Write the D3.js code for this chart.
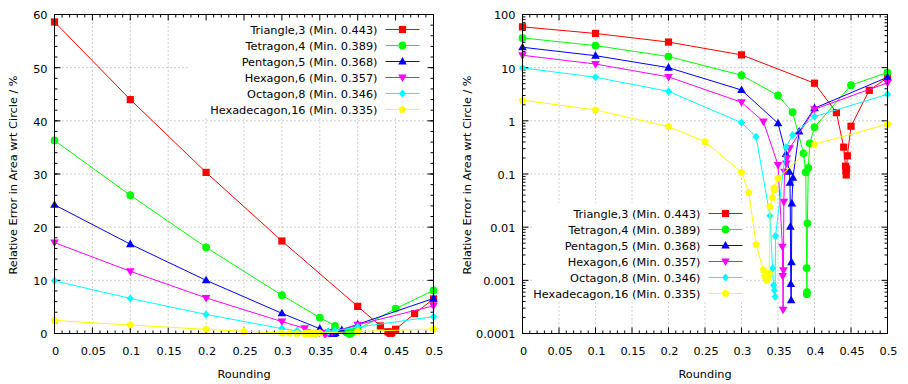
<!DOCTYPE html>
<html>
<head>
<meta charset="utf-8">
<script src="https://cdn.jsdelivr.net/npm/d3@7"></script>
<style>
body { margin: 0; background: #fff; }
text { font-family: "DejaVu Sans", Verdana, sans-serif; font-size: 11.3px; fill: #000; }
</style>
</head>
<body>
<svg id="canvas"></svg>
<script>
var w = 908;
var h = 384;

// legend titles, colours, marker kinds
var names = ['Triangle,3 (Min. 0.443)', 'Tetragon,4 (Min. 0.389)', 'Pentagon,5 (Min. 0.368)',
             'Hexagon,6 (Min. 0.357)', 'Octagon,8 (Min. 0.346)', 'Hexadecagon,16 (Min. 0.335)']
var colours = ['#ff0000', '#00ff00', '#0000ff', '#ff00ff', '#00ffff', '#ffff00']
var markers = ['square', 'circle', 'triUp', 'triDown', 'diamond', 'pentagon']

// rounding values and relative error (%)
var triR = [0, 0.1, 0.2, 0.3, 0.4, 0.43, 0.44, 0.4425, 0.443, 0.4435, 0.444, 0.445, 0.45, 0.475, 0.5]
var triV = [58.6, 44.0, 30.3, 17.4, 5.1, 1.43, 0.32, 0.14, 0.115, 0.096, 0.125, 0.22, 0.79, 3.75, 6.5]
var tetR = [0, 0.1, 0.2, 0.3, 0.35, 0.37, 0.385, 0.388, 0.3893, 0.3895, 0.3897, 0.3903, 0.3915, 0.3935, 0.4, 0.45, 0.5]
var tetV = [36.3, 26.0, 16.2, 7.2, 3.0, 1.45, 0.245, 0.108, 0.0017, 0.00055, 0.0006, 0.0118, 0.13, 0.378, 0.76, 4.68, 8.1]
var penR = [0, 0.1, 0.2, 0.3, 0.35, 0.361, 0.3655, 0.3665, 0.367, 0.3675, 0.368, 0.3685, 0.369, 0.3705, 0.379, 0.4, 0.5]
var penV = [24.2, 16.8, 10.0, 3.8, 0.9, 0.238, 0.11, 0.0686, 0.0102, 0.00085, 0.00042, 0.0022, 0.028, 0.085, 0.63, 1.73, 6.6]
var hexR = [0, 0.1, 0.2, 0.3, 0.33, 0.35, 0.356, 0.3565, 0.357, 0.3575, 0.358, 0.359, 0.3615, 0.362, 0.366, 0.4, 0.5]
var hexV = [17.1, 11.7, 6.7, 2.24, 0.97, 0.148, 0.0043, 0.0012, 0.00028, 0.00155, 0.03, 0.11, 0.158, 0.198, 0.305, 1.65, 5.2]
var octR = [0, 0.1, 0.2, 0.3, 0.32, 0.339, 0.3425, 0.344, 0.345, 0.346, 0.3466, 0.361, 0.37, 0.4, 0.5]
var octV = [9.9, 6.6, 3.58, 0.925, 0.5, 0.0164, 0.00168, 0.00081, 0.00065, 0.00049, 0.0068, 0.32, 0.54, 1.2, 3.16]
var hdcR = [0, 0.1, 0.2, 0.25, 0.3, 0.31, 0.32, 0.33, 0.332, 0.334, 0.335, 0.336, 0.338, 0.339, 0.3425, 0.3445, 0.345, 0.35, 0.4, 0.5]
var hdcV = [2.45, 1.6, 0.78, 0.406, 0.108, 0.0445, 0.0047, 0.00156, 0.0012, 0.00105, 0.001, 0.0011, 0.00135, 0.0242, 0.036, 0.05, 0.055, 0.083, 0.363, 0.863]

var seriesR = [triR, tetR, penR, hexR, octR, hdcR]
var seriesV = [triV, tetV, penV, hexV, octV, hdcV]

// tick labels
var xTicks = [0, 0.05, 0.1, 0.15, 0.2, 0.25, 0.3, 0.35, 0.4, 0.45, 0.5]
var xTickLabels = ['0', '0.05', '0.1', '0.15', '0.2', '0.25', '0.3', '0.35', '0.4', '0.45', '0.5']
var linTicks = [0, 10, 20, 30, 40, 50, 60]
var logTicks = [0.0001, 0.001, 0.01, 0.1, 1, 10, 100]
var logTickLabels = ['0.0001', '0.001', '0.01', '0.1', '1', '10', '100']

var svg = d3.select('#canvas')
  .attr('width', w)
  .attr('height', h)
  .attr('viewBox', [0, 0, w, h])

function markerPath(kind){
  var p = d3.path()
  if (kind == 'square'){
    p.rect(-3.6, -3.6, 7.2, 7.2)
  } else if (kind == 'circle'){
    p.arc(0, 0, 3.9, 0, 2*Math.PI)
  } else if (kind == 'triUp'){
    p.moveTo(0, -4.6); p.lineTo(4.3, 3); p.lineTo(-4.3, 3); p.closePath()
  } else if (kind == 'triDown'){
    p.moveTo(0, 4.6); p.lineTo(4.3, -3); p.lineTo(-4.3, -3); p.closePath()
  } else if (kind == 'diamond'){
    p.moveTo(0, -4); p.lineTo(3.6, 0); p.lineTo(0, 4); p.lineTo(-3.6, 0); p.closePath()
  } else {
    for (var k = 0; k < 5; k++){
      var a = -Math.PI/2 + k*2*Math.PI/5
      if (k == 0) p.moveTo(4*Math.cos(a), 4*Math.sin(a))
      else p.lineTo(4*Math.cos(a), 4*Math.sin(a))
    }
    p.closePath()
  }
  return p.toString()
}

function drawPlot(o){
  var g = svg.append('g')
  var x = d3.scaleLinear().domain([0, 0.5]).range([o.left, o.right])
  var y = o.y
  var pt = o.top, pb = o.bottom

  // grid
  g.selectAll('.vgrid').data(xTicks.slice(1, -1)).enter().append('line')
    .attr('x1', d => x(d)).attr('x2', d => x(d)).attr('y1', pt).attr('y2', pb)
    .style('stroke', '#a0a0a0').style('stroke-dasharray', '1,3')
  g.selectAll('.hgrid').data(o.ticks.slice(1, -1)).enter().append('line')
    .attr('x1', o.left).attr('x2', o.right).attr('y1', d => y(d)).attr('y2', d => y(d))
    .style('stroke', '#a0a0a0').style('stroke-dasharray', '1,3')

  // opaque key box
  g.append('rect').attr('x', o.key.box[0]).attr('y', o.key.box[1])
    .attr('width', o.key.box[2]).attr('height', o.key.box[3]).style('fill', '#fff')

  // ticks on all four sides
  var xMinor = d3.range(0, 51).map(i => i/100)
  xMinor.forEach(function(d, i){
    var len = (i % 5 == 0) ? 6 : 3
    g.append('line').attr('x1', x(d)).attr('x2', x(d)).attr('y1', pb).attr('y2', pb-len).style('stroke', '#000')
    g.append('line').attr('x1', x(d)).attr('x2', x(d)).attr('y1', pt).attr('y2', pt+len).style('stroke', '#000')
  })
  o.minor.forEach(function(d){
    g.append('line').attr('x1', o.left).attr('x2', o.left+3).attr('y1', y(d)).attr('y2', y(d)).style('stroke', '#000')
    g.append('line').attr('x1', o.right).attr('x2', o.right-3).attr('y1', y(d)).attr('y2', y(d)).style('stroke', '#000')
  })
  o.ticks.forEach(function(d){
    g.append('line').attr('x1', o.left).attr('x2', o.left+6).attr('y1', y(d)).attr('y2', y(d)).style('stroke', '#000')
    g.append('line').attr('x1', o.right).attr('x2', o.right-6).attr('y1', y(d)).attr('y2', y(d)).style('stroke', '#000')
  })

  // tick labels
  g.selectAll('.xl').data(xTicks).enter().append('text')
    .attr('x', d => x(d) + 1).attr('y', pb + 21).attr('text-anchor', 'middle')
    .text((d, i) => xTickLabels[i])
  g.selectAll('.yl').data(o.ticks).enter().append('text')
    .attr('x', o.left - 7).attr('y', d => y(d) + 1).attr('dy', '0.35em').attr('text-anchor', 'end')
    .text((d, i) => o.labels[i])

  // axis titles
  g.append('text').attr('x', (o.left + o.right)/2).attr('y', 378).attr('text-anchor', 'middle').text('Rounding')
  g.append('text').attr('transform', 'translate(' + o.titleX + ',' + ((pt + pb)/2 + 1) + ') rotate(-90)')
    .attr('dy', '0.35em').attr('text-anchor', 'middle').text('Relative Error in Area wrt Circle / %')

  // series
  var line = d3.line().x(d => x(d[0])).y(d => y(d[1]))
  seriesR.forEach(function(rs, s){
    var pts = rs.map((r, i) => [r, seriesV[s][i]])
    g.append('path').datum(pts).attr('d', line)
      .style('fill', 'none').style('stroke', colours[s]).style('stroke-width', 1)
    g.selectAll('.m' + s).data(pts).enter().append('path')
      .attr('transform', d => 'translate(' + x(d[0]) + ',' + y(d[1]) + ')')
      .attr('d', markerPath(markers[s])).style('fill', colours[s])
  })

  // key
  names.forEach(function(n, i){
    var ky = o.key.y + i*16
    g.append('text').attr('x', o.key.x).attr('y', ky + 0.5).attr('dy', '0.35em').attr('text-anchor', 'end').text(n)
    g.append('line').attr('x1', o.key.x + 8).attr('x2', o.key.x + 42).attr('y1', ky).attr('y2', ky)
      .style('stroke', colours[i])
    g.append('path').attr('transform', 'translate(' + (o.key.x + 25) + ',' + ky + ')')
      .attr('d', markerPath(markers[i])).style('fill', colours[i])
  })

  // border
  g.append('rect').attr('x', o.left).attr('y', pt).attr('width', o.right - o.left).attr('height', pb - pt)
    .style('fill', 'none').style('stroke', '#000')
}

var plotTop = 14.5, plotBottom = 333.5

drawPlot({
  left: 54.5, right: 433.5, top: plotTop, bottom: plotBottom, titleX: 13,
  y: d3.scaleLinear().domain([0, 60]).range([plotBottom, plotTop]),
  ticks: linTicks, labels: linTicks.map(String),
  minor: d3.range(0, 61, 2),
  key: {x: 377.5, y: 29.5, box: [188, 15, 245, 103]}
})

var logMinor = []
for (var e = -4; e < 2; e++){
  for (var m = 2; m < 10; m++){ logMinor.push(m * Math.pow(10, e)) }
}

drawPlot({
  left: 522.5, right: 887.5, top: plotTop, bottom: plotBottom, titleX: 467,
  y: d3.scaleLog().domain([0.0001, 100]).range([plotBottom, plotTop]),
  ticks: logTicks, labels: logTickLabels,
  minor: logMinor,
  key: {x: 700.5, y: 213.5, box: [532, 203, 213, 99]}
})
</script>
</body>
</html>
